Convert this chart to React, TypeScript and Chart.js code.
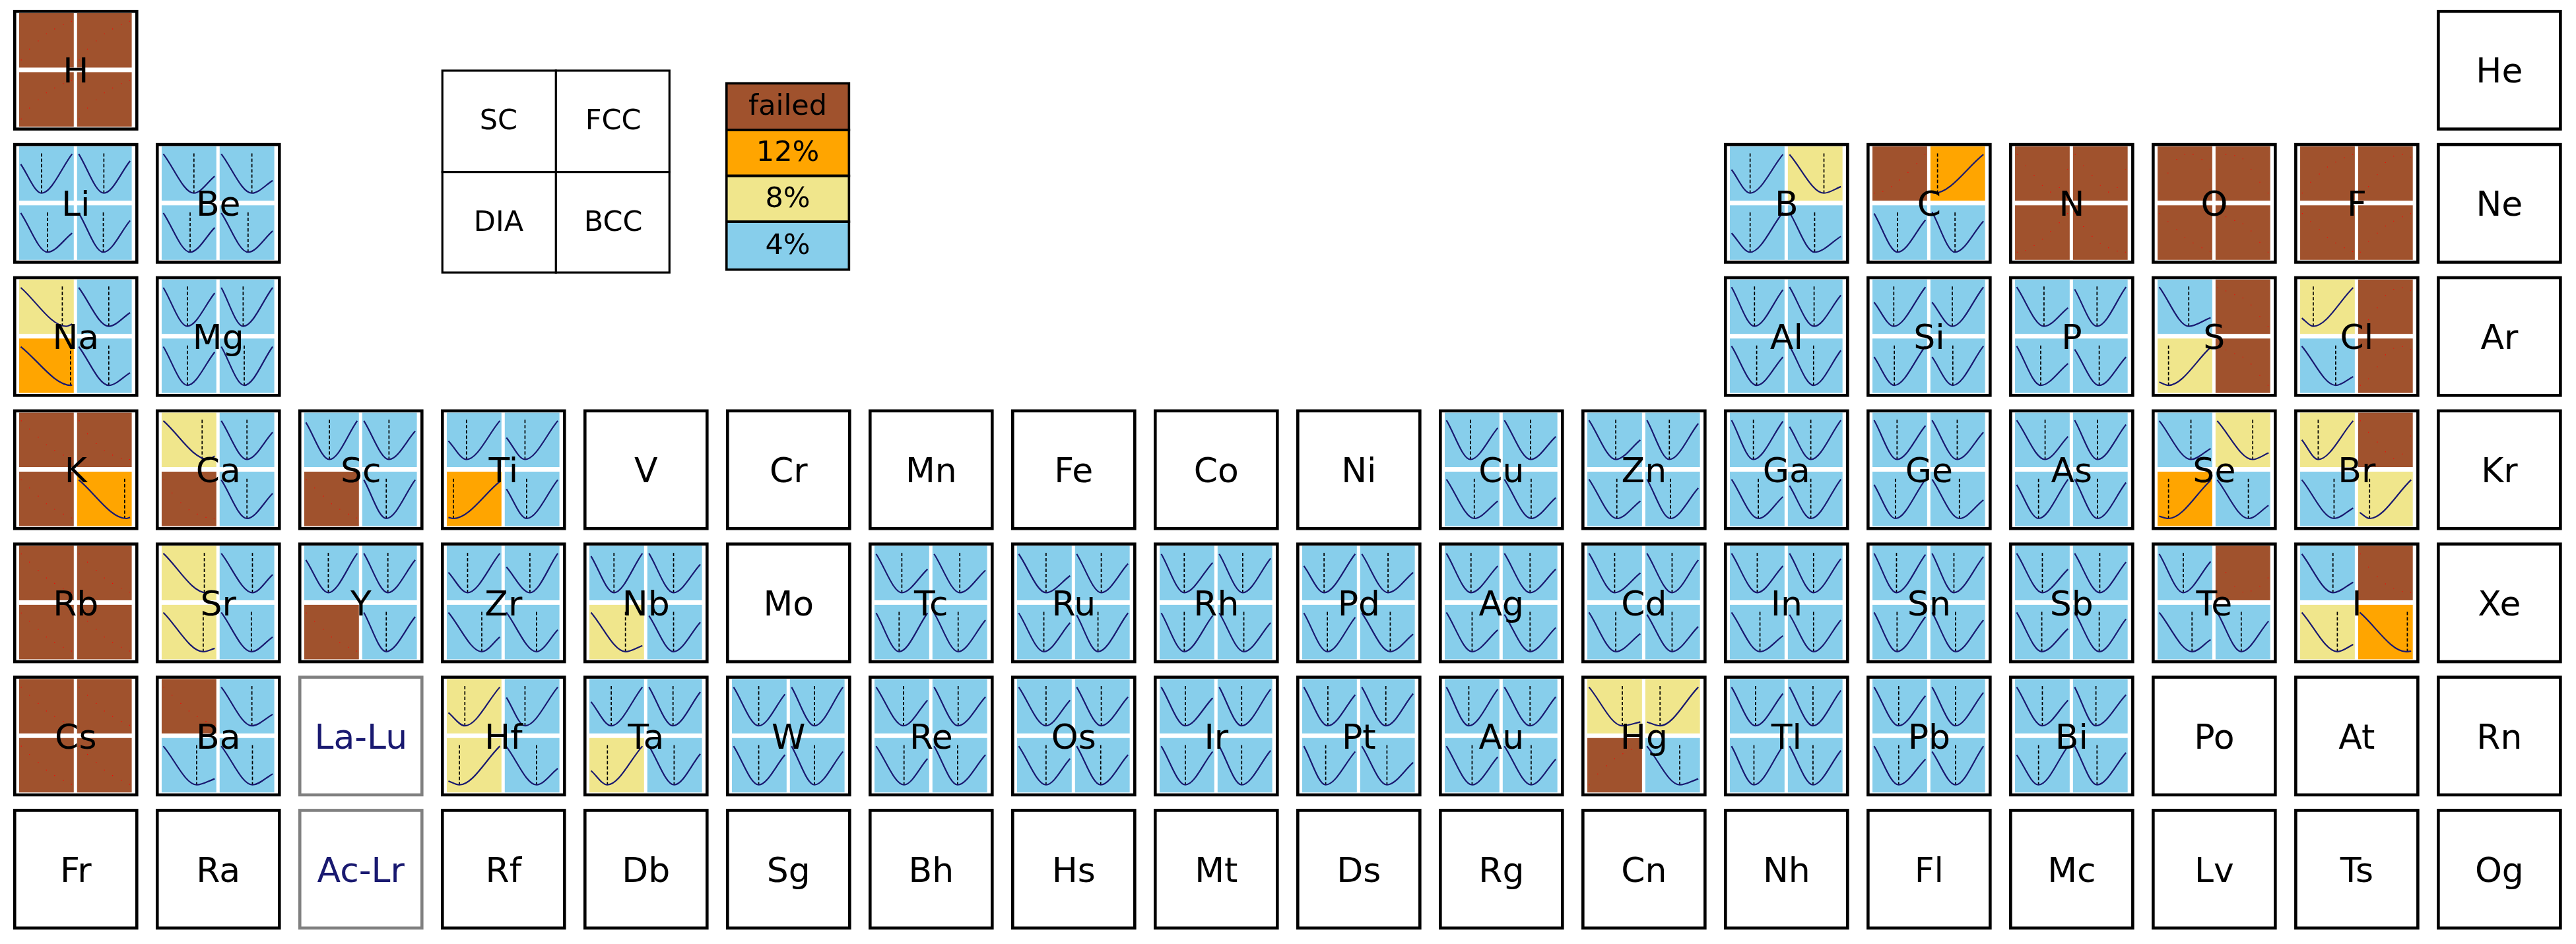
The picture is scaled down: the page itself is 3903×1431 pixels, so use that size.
import React, { useEffect, useRef } from 'react';
import { Chart, registerables } from 'chart.js';

Chart.register(...registerables);

// ---------- periodic table cells ----------
const CELL_SYMBOLS = [
  'H', 'He',
  'Li', 'Be', 'B', 'C', 'N', 'O', 'F', 'Ne',
  'Na', 'Mg', 'Al', 'Si', 'P', 'S', 'Cl', 'Ar',
  'K', 'Ca', 'Sc', 'Ti', 'V', 'Cr', 'Mn', 'Fe', 'Co', 'Ni', 'Cu', 'Zn', 'Ga', 'Ge', 'As', 'Se', 'Br', 'Kr',
  'Rb', 'Sr', 'Y', 'Zr', 'Nb', 'Mo', 'Tc', 'Ru', 'Rh', 'Pd', 'Ag', 'Cd', 'In', 'Sn', 'Sb', 'Te', 'I', 'Xe',
  'Cs', 'Ba', 'La-Lu', 'Hf', 'Ta', 'W', 'Re', 'Os', 'Ir', 'Pt', 'Au', 'Hg', 'Tl', 'Pb', 'Bi', 'Po', 'At', 'Rn',
  'Fr', 'Ra', 'Ac-Lr', 'Rf', 'Db', 'Sg', 'Bh', 'Hs', 'Mt', 'Ds', 'Rg', 'Cn', 'Nh', 'Fl', 'Mc', 'Lv', 'Ts', 'Og',
];
const CELL_ROW = [
  0, 0,
  1, 1, 1, 1, 1, 1, 1, 1,
  2, 2, 2, 2, 2, 2, 2, 2,
  3, 3, 3, 3, 3, 3, 3, 3, 3, 3, 3, 3, 3, 3, 3, 3, 3, 3,
  4, 4, 4, 4, 4, 4, 4, 4, 4, 4, 4, 4, 4, 4, 4, 4, 4, 4,
  5, 5, 5, 5, 5, 5, 5, 5, 5, 5, 5, 5, 5, 5, 5, 5, 5, 5,
  6, 6, 6, 6, 6, 6, 6, 6, 6, 6, 6, 6, 6, 6, 6, 6, 6, 6,
];
const CELL_COL = [
  0, 17,
  0, 1, 12, 13, 14, 15, 16, 17,
  0, 1, 12, 13, 14, 15, 16, 17,
  0, 1, 2, 3, 4, 5, 6, 7, 8, 9, 10, 11, 12, 13, 14, 15, 16, 17,
  0, 1, 2, 3, 4, 5, 6, 7, 8, 9, 10, 11, 12, 13, 14, 15, 16, 17,
  0, 1, 2, 3, 4, 5, 6, 7, 8, 9, 10, 11, 12, 13, 14, 15, 16, 17,
  0, 1, 2, 3, 4, 5, 6, 7, 8, 9, 10, 11, 12, 13, 14, 15, 16, 17,
];
const PLACEHOLDERS = ['La-Lu', 'Ac-Lr'];

// ---------- legends ----------
const STRUCTURES = ['SC', 'FCC', 'DIA', 'BCC'];
const LEVEL_LABELS = ['failed', '12%', '8%', '4%'];
const LEVEL_CODES = ['X', 'O', 'K', 'B'];
const LEVEL_COLORS = ['#a0522d', '#ffa500', '#f0e68c', '#87ceeb'];

// ---------- tested elements: quadrant order SC, FCC, DIA, BCC ----------
const TESTED = [
  'H', 'Li', 'Be', 'B', 'C', 'N', 'O', 'F',
  'Na', 'Mg', 'Al', 'Si', 'P', 'S', 'Cl',
  'K', 'Ca', 'Sc', 'Ti', 'Cu', 'Zn', 'Ga', 'Ge', 'As', 'Se', 'Br',
  'Rb', 'Sr', 'Y', 'Zr', 'Nb', 'Tc', 'Ru', 'Rh', 'Pd', 'Ag', 'Cd', 'In', 'Sn', 'Sb', 'Te', 'I',
  'Cs', 'Ba', 'Hf', 'Ta', 'W', 'Re', 'Os', 'Ir', 'Pt', 'Au', 'Hg', 'Tl', 'Pb', 'Bi',
];
const STATUS = [
  'XXXX', 'BBBB', 'BBBB', 'BKBB', 'XOBB', 'XXXX', 'XXXX', 'XXXX',
  'KBOB', 'BBBB', 'BBBB', 'BBBB', 'BBBB', 'BXKX', 'KXBX',
  'XXXO', 'KBXB', 'BBXB', 'BBOB', 'BBBB', 'BBBB', 'BBBB', 'BBBB', 'BBBB', 'BKOB', 'KXBK',
  'XXXX', 'KBKB', 'BBXB', 'BBBB', 'BBKB', 'BBBB', 'BBBB', 'BBBB', 'BBBB', 'BBBB', 'BBBB', 'BBBB', 'BBBB', 'BBBB', 'BXBB', 'BXKO',
  'XXXX', 'XBBB', 'KBKB', 'BBKB', 'BBBB', 'BBBB', 'BBBB', 'BBBB', 'BBBB', 'BBBB', 'KKXB', 'BBBB', 'BBBB', 'BBBB',
];
// each curve: [left-end height, x of minimum, right-end height, x of dashed reference]
// (fractions of the quadrant); failed quadrants name their scattered-point pattern
const CURVES: (number[] | string)[][] = [
  ['up', 'up', 'up', 'up'], // H
  [[0.67, 0.41, 0.86, 0.41], [0.86, 0.49, 0.73, 0.49], [0.86, 0.52, 0.49, 0.52], [0.86, 0.48, 0.72, 0.48]], // Li
  [[0.86, 0.59, 0.45, 0.59], [0.86, 0.59, 0.37, 0.59], [0.86, 0.52, 0.59, 0.52], [0.86, 0.52, 0.53, 0.52]], // Be
  [[0.57, 0.37, 0.85, 0.37], [0.85, 0.66, 0.26, 0.66], [0.49, 0.37, 0.87, 0.37], [0.87, 0.49, 0.43, 0.49]], // B
  ['climb', [0.15, 0.07, 0.85, 0.13], [0.85, 0.46, 0.73, 0.46], [0.88, 0.45, 0.71, 0.45]], // C
  ['vee', 'vee', 'climb', 'sag'], // N
  ['hump', 'fall', 'down', 'drop'], // O
  ['up', 'rise', 'down', 'up'], // F
  [[0.85, 0.86, 0.18, 0.79], [0.85, 0.58, 0.39, 0.58], [0.85, 0.95, 0.15, 0.94], [0.85, 0.58, 0.37, 0.58]], // Na
  [[0.85, 0.47, 0.75, 0.47], [0.85, 0.43, 0.85, 0.43], [0.85, 0.47, 0.75, 0.47], [0.85, 0.45, 0.85, 0.45]], // Mg
  [[0.86, 0.45, 0.81, 0.45], [0.86, 0.48, 0.71, 0.48], [0.86, 0.49, 0.66, 0.49], [0.86, 0.47, 0.78, 0.47]], // Al
  [[0.58, 0.39, 0.86, 0.39], [0.58, 0.40, 0.86, 0.40], [0.66, 0.40, 0.86, 0.40], [0.66, 0.41, 0.86, 0.41]], // Si
  [[0.86, 0.53, 0.48, 0.53], [0.82, 0.44, 0.86, 0.44], [0.86, 0.47, 0.54, 0.47], [0.80, 0.48, 0.66, 0.48]], // P
  [[0.86, 0.57, 0.30, 0.57], 'drop', [0.20, 0.20, 0.84, 0.20], 'drop'], // S
  [[0.29, 0.24, 0.85, 0.24], 'rise', [0.86, 0.65, 0.30, 0.65], 'rise'], // Cl
  ['down', 'sag', 'down', [0.85, 0.90, 0.16, 0.87]], // K
  [[0.85, 0.85, 0.20, 0.74], [0.85, 0.50, 0.64, 0.50], 'sag', [0.85, 0.50, 0.60, 0.50]], // Ca
  [[0.82, 0.46, 0.85, 0.46], [0.85, 0.49, 0.66, 0.49], 'down', [0.85, 0.44, 0.85, 0.44]], // Sc
  [[0.48, 0.36, 0.85, 0.36], [0.54, 0.37, 0.85, 0.37], [0.16, 0.12, 0.82, 0.12], [0.68, 0.40, 0.85, 0.40]], // Ti
  [[0.86, 0.47, 0.72, 0.47], [0.86, 0.51, 0.56, 0.51], [0.86, 0.54, 0.46, 0.54], [0.86, 0.52, 0.52, 0.52]], // Cu
  [[0.86, 0.52, 0.50, 0.52], [0.86, 0.44, 0.80, 0.44], [0.86, 0.54, 0.46, 0.54], [0.86, 0.46, 0.70, 0.46]], // Zn
  [[0.86, 0.43, 0.84, 0.43], [0.74, 0.42, 0.86, 0.42], [0.86, 0.52, 0.54, 0.52], [0.74, 0.42, 0.86, 0.42]], // Ga
  [[0.86, 0.45, 0.76, 0.45], [0.86, 0.49, 0.64, 0.49], [0.76, 0.42, 0.86, 0.42], [0.86, 0.53, 0.48, 0.53]], // Ge
  [[0.86, 0.55, 0.56, 0.55], [0.86, 0.45, 0.78, 0.45], [0.76, 0.43, 0.86, 0.43], [0.86, 0.45, 0.80, 0.45]], // As
  [[0.85, 0.61, 0.34, 0.61], [0.85, 0.68, 0.26, 0.68], [0.18, 0.20, 0.84, 0.20], [0.85, 0.60, 0.38, 0.60]], // Se
  [[0.50, 0.33, 0.85, 0.33], 'vee', [0.85, 0.62, 0.33, 0.62], [0.25, 0.21, 0.85, 0.21]], // Br
  ['down', 'down', 'down', 'down'], // Rb
  [[0.86, 0.81, 0.17, 0.78], [0.86, 0.60, 0.47, 0.60], [0.86, 0.76, 0.20, 0.76], [0.86, 0.58, 0.41, 0.58]], // Sr
  [[0.74, 0.44, 0.86, 0.44], [0.86, 0.47, 0.74, 0.47], 'down', [0.86, 0.44, 0.78, 0.44]], // Y
  [[0.51, 0.38, 0.86, 0.38], [0.61, 0.46, 0.86, 0.46], [0.86, 0.64, 0.41, 0.64], [0.86, 0.58, 0.54, 0.58]], // Zr
  [[0.81, 0.45, 0.86, 0.45], [0.86, 0.48, 0.66, 0.48], [0.86, 0.66, 0.25, 0.66], [0.80, 0.48, 0.68, 0.48]], // Nb
  [[0.85, 0.50, 0.57, 0.50], [0.85, 0.50, 0.55, 0.50], [0.85, 0.45, 0.85, 0.45], [0.85, 0.47, 0.72, 0.47]], // Tc
  [[0.85, 0.53, 0.45, 0.53], [0.85, 0.48, 0.67, 0.48], [0.85, 0.49, 0.67, 0.49], [0.81, 0.42, 0.85, 0.42]], // Ru
  [[0.85, 0.45, 0.69, 0.45], [0.85, 0.46, 0.77, 0.46], [0.85, 0.45, 0.80, 0.45], [0.85, 0.48, 0.67, 0.48]], // Rh
  [[0.63, 0.40, 0.85, 0.40], [0.85, 0.51, 0.51, 0.51], [0.85, 0.46, 0.77, 0.46], [0.85, 0.55, 0.46, 0.55]], // Pd
  [[0.86, 0.48, 0.63, 0.48], [0.86, 0.50, 0.57, 0.50], [0.86, 0.50, 0.54, 0.50], [0.82, 0.50, 0.58, 0.50]], // Ag
  [[0.86, 0.50, 0.50, 0.50], [0.86, 0.49, 0.74, 0.49], [0.86, 0.52, 0.47, 0.52], [0.82, 0.49, 0.60, 0.49]], // Cd
  [[0.86, 0.50, 0.63, 0.50], [0.86, 0.47, 0.76, 0.47], [0.86, 0.55, 0.43, 0.55], [0.82, 0.47, 0.72, 0.47]], // In
  [[0.86, 0.44, 0.84, 0.44], [0.86, 0.43, 0.80, 0.43], [0.86, 0.45, 0.78, 0.45], [0.86, 0.46, 0.72, 0.46]], // Sn
  [[0.86, 0.50, 0.57, 0.50], [0.86, 0.49, 0.70, 0.49], [0.86, 0.49, 0.56, 0.49], [0.86, 0.48, 0.74, 0.48]], // Sb
  [[0.85, 0.47, 0.71, 0.47], 'dip', [0.86, 0.63, 0.36, 0.63], [0.86, 0.47, 0.70, 0.47]], // Te
  [[0.85, 0.60, 0.33, 0.60], 'sag', [0.86, 0.68, 0.27, 0.68], [0.86, 0.88, 0.15, 0.90]], // I
  ['down', 'down', 'down', 'down'], // Cs
  ['down', [0.85, 0.59, 0.35, 0.59], [0.85, 0.64, 0.25, 0.64], [0.85, 0.60, 0.34, 0.60]], // Ba
  [[0.38, 0.33, 0.85, 0.33], [0.66, 0.37, 0.85, 0.37], [0.21, 0.23, 0.85, 0.23], [0.84, 0.58, 0.44, 0.58]], // Hf
  [[0.58, 0.40, 0.85, 0.40], [0.85, 0.47, 0.76, 0.47], [0.40, 0.33, 0.85, 0.33], [0.85, 0.49, 0.71, 0.49]], // Ta
  [[0.85, 0.49, 0.72, 0.49], [0.85, 0.45, 0.85, 0.45], [0.85, 0.49, 0.69, 0.49], [0.85, 0.45, 0.75, 0.45]], // W
  [[0.85, 0.53, 0.61, 0.53], [0.85, 0.47, 0.67, 0.47], [0.85, 0.54, 0.62, 0.54], [0.85, 0.46, 0.69, 0.46]], // Re
  [[0.85, 0.53, 0.61, 0.53], [0.85, 0.48, 0.67, 0.48], [0.85, 0.53, 0.62, 0.53], [0.85, 0.47, 0.69, 0.47]], // Os
  [[0.85, 0.47, 0.65, 0.47], [0.85, 0.44, 0.81, 0.44], [0.85, 0.47, 0.75, 0.47], [0.85, 0.44, 0.77, 0.44]], // Ir
  [[0.85, 0.47, 0.71, 0.47], [0.85, 0.47, 0.73, 0.47], [0.85, 0.43, 0.75, 0.43], [0.85, 0.49, 0.55, 0.49]], // Pt
  [[0.85, 0.44, 0.81, 0.44], [0.85, 0.50, 0.67, 0.50], [0.85, 0.50, 0.65, 0.50], [0.85, 0.52, 0.61, 0.52]], // Au
  [[0.85, 0.64, 0.21, 0.64], [0.21, 0.27, 0.85, 0.27], 'up', [0.85, 0.63, 0.25, 0.63]], // Hg
  [[0.85, 0.47, 0.73, 0.47], [0.85, 0.46, 0.79, 0.46], [0.85, 0.44, 0.85, 0.44], [0.85, 0.46, 0.77, 0.46]], // Tl
  [[0.85, 0.48, 0.69, 0.48], [0.85, 0.46, 0.75, 0.46], [0.85, 0.48, 0.61, 0.48], [0.75, 0.46, 0.85, 0.46]], // Pb
  [[0.85, 0.50, 0.61, 0.50], [0.85, 0.42, 0.71, 0.42], [0.69, 0.43, 0.85, 0.43], [0.85, 0.44, 0.73, 0.44]], // Bi
];

// scattered points of failed fits (heights, at DOT_X positions)
const DOT_X = [0.04, 0.19, 0.35, 0.5, 0.65, 0.81, 0.96];
const DOT_UP = [0.14, 0.34, 0.49, 0.62, 0.71, 0.79, 0.85];
const DOT_DOWN = [0.85, 0.7, 0.55, 0.41, 0.31, 0.22, 0.15];
const DOT_SAG = [0.85, 0.61, 0.43, 0.3, 0.22, 0.16, 0.14];
const DOT_DROP = [0.85, 0.79, 0.72, 0.66, 0.53, 0.32, 0.14];
const DOT_RISE = [0.14, 0.26, 0.48, 0.7, 0.82, 0.85, 0.8];
const DOT_DIP = [0.85, 0.51, 0.26, 0.15, 0.17, 0.26, 0.41];
const DOT_VEE = [0.85, 0.64, 0.46, 0.28, 0.16, 0.24, 0.57];
const DOT_HUMP = [0.14, 0.51, 0.76, 0.85, 0.85, 0.76, 0.58];
const DOT_FALL = [0.14, 0.85, 0.83, 0.77, 0.58, 0.34, 0.14];
const DOT_CLIMB = [0.14, 0.17, 0.26, 0.38, 0.52, 0.68, 0.85];
const DOT_PATTERNS: Record<string, number[]> = {
  up: DOT_UP, down: DOT_DOWN, sag: DOT_SAG, drop: DOT_DROP, rise: DOT_RISE,
  dip: DOT_DIP, vee: DOT_VEE, hump: DOT_HUMP, fall: DOT_FALL, climb: DOT_CLIMB,
};

// curve extent inside a quadrant
const CURVE_LEFT = 0.03;
const CURVE_RIGHT = 0.97;
const CURVE_MIN = 0.14;
const DASH_TOP = 0.87;

// ---------- geometry (axis units: 1 = one column / one row) ----------
const COL_PX = 216.45;
const ROW_PX = 203;
const X_MIN = -16 / COL_PX;
const X_MAX = (3903 - 16) / COL_PX;
const Y_MIN = -11 / ROW_PX;
const Y_MAX = (1431 - 11) / ROW_PX;
const CELL_W = 190 / COL_PX;
const CELL_H = 184 / ROW_PX;
const QX = [9 / COL_PX, 92 / COL_PX, 97 / COL_PX, 180 / COL_PX];
const QY = [5 / ROW_PX, 88 / ROW_PX, 95 / ROW_PX, 178 / ROW_PX];
const GRID_X = [650 / COL_PX, 824 / COL_PX, 998 / COL_PX];
const GRID_Y = [91 / ROW_PX, 247 / ROW_PX, 402 / ROW_PX];
const KEY_X = [1083 / COL_PX, 1269 / COL_PX];
const KEY_Y = [112 / ROW_PX, 183 / ROW_PX, 253 / ROW_PX, 323 / ROW_PX, 396 / ROW_PX];

function quadBox(col: number, row: number, q: number) {
  const qc = q % 2;
  const qr = Math.floor(q / 2);
  return {
    x0: col + QX[qc * 2], x1: col + QX[qc * 2 + 1],
    y0: row + QY[qr * 2], y1: row + QY[qr * 2 + 1],
  };
}
function local(b: { x0: number; x1: number; y0: number; y1: number }, u: number, v: number) {
  return { x: b.x0 + u * (b.x1 - b.x0), y: b.y1 - v * (b.y1 - b.y0) };
}
function cellOf(sym: string) {
  const j = CELL_SYMBOLS.indexOf(sym);
  return { col: CELL_COL[j], row: CELL_ROW[j] };
}

function buildData() {
  const curve: any[] = [];
  const dash: any[] = [];
  const dots: any[] = [];
  TESTED.forEach((sym, i) => {
    const { col, row } = cellOf(sym);
    CURVES[i].forEach((entry, q) => {
      const b = quadBox(col, row, q);
      if (typeof entry === 'string') {
        const ys = DOT_PATTERNS[entry];
        DOT_X.forEach((u, k) => dots.push(local(b, u, ys[k])));
        return;
      }
      const [yl, xm, yr, xd] = entry;
      const p1 = local(b, CURVE_LEFT, yl);
      const p2 = local(b, xm, CURVE_MIN);
      const p3 = local(b, CURVE_RIGHT, yr);
      curve.push(p1, p2, p3, { x: p3.x, y: null });
      const d1 = local(b, xd, DASH_TOP);
      const d2 = local(b, xd, CURVE_MIN);
      dash.push(d1, d2, { x: d2.x, y: null });
    });
  });
  return { curve, dash, dots };
}

const FONT = '"DejaVu Sans", "Liberation Sans", sans-serif';
const CAP = 0.729;

const tablePlugin = {
  id: 'periodicTable',
  beforeDatasetsDraw(chart: any) {
    const { ctx } = chart;
    const xs = chart.scales.x;
    const ys = chart.scales.y;
    const px = (v: number) => xs.getPixelForValue(v);
    const py = (v: number) => ys.getPixelForValue(v);
    ctx.save();
    // quadrant fills
    TESTED.forEach((sym, i) => {
      const { col, row } = cellOf(sym);
      for (let q = 0; q < 4; q++) {
        const b = quadBox(col, row, q);
        const code = STATUS[i][q];
        ctx.fillStyle = LEVEL_COLORS[LEVEL_CODES.indexOf(code)];
        ctx.fillRect(px(b.x0), py(b.y0), px(b.x1) - px(b.x0), py(b.y1) - py(b.y0));
      }
    });
    // frames
    CELL_SYMBOLS.forEach((sym, j) => {
      const col = CELL_COL[j];
      const row = CELL_ROW[j];
      const lw = 4.6;
      ctx.lineWidth = lw;
      ctx.strokeStyle = PLACEHOLDERS.includes(sym) ? '#808080' : '#000000';
      const x0 = px(col), x1 = px(col + CELL_W);
      const y0 = py(row), y1 = py(row + CELL_H);
      ctx.strokeRect(x0 + lw / 2, y0 + lw / 2, x1 - x0 - lw, y1 - y0 - lw);
    });
    // structure legend grid
    ctx.lineWidth = 3.2;
    ctx.strokeStyle = '#000';
    const gx = GRID_X.map(px), gy = GRID_Y.map(py);
    ctx.strokeRect(gx[0] + 1.6, gy[0] + 1.6, gx[2] - gx[0] - 3.2, gy[2] - gy[0] - 3.2);
    ctx.beginPath();
    ctx.moveTo(gx[1], gy[0]); ctx.lineTo(gx[1], gy[2]);
    ctx.moveTo(gx[0], gy[1]); ctx.lineTo(gx[2], gy[1]);
    ctx.stroke();
    // colour key
    const kx = KEY_X.map(px), ky = KEY_Y.map(py);
    for (let k = 0; k < 4; k++) {
      ctx.fillStyle = LEVEL_COLORS[k];
      ctx.fillRect(kx[0], ky[k], kx[1] - kx[0], ky[k + 1] - ky[k]);
    }
    ctx.lineWidth = 3.6;
    for (let k = 0; k < 4; k++) {
      ctx.strokeRect(kx[0], ky[k], kx[1] - kx[0], ky[k + 1] - ky[k]);
    }
    ctx.restore();
  },
  afterDatasetsDraw(chart: any) {
    const { ctx } = chart;
    const xs = chart.scales.x;
    const ys = chart.scales.y;
    const px = (v: number) => xs.getPixelForValue(v);
    const py = (v: number) => ys.getPixelForValue(v);
    ctx.save();
    ctx.textAlign = 'center';
    ctx.textBaseline = 'alphabetic';
    const big = 52;
    ctx.font = `${big}px ${FONT}`;
    CELL_SYMBOLS.forEach((sym, j) => {
      const col = CELL_COL[j];
      const row = CELL_ROW[j];
      ctx.fillStyle = PLACEHOLDERS.includes(sym) ? '#191970' : '#000000';
      const cx = px(col + CELL_W / 2);
      const cy = py(row + CELL_H / 2);
      ctx.fillText(sym, cx, cy + (big * CAP) / 2);
    });
    const small = 43;
    ctx.font = `${small}px ${FONT}`;
    ctx.fillStyle = '#000';
    const gx = GRID_X.map(px), gy = GRID_Y.map(py);
    STRUCTURES.forEach((s, q) => {
      const qc = q % 2, qr = Math.floor(q / 2);
      const cx = (gx[qc] + gx[qc + 1]) / 2;
      const cy = (gy[qr] + gy[qr + 1]) / 2;
      ctx.fillText(s, cx, cy + (small * CAP) / 2 - 3);
    });
    const kx = KEY_X.map(px), ky = KEY_Y.map(py);
    LEVEL_LABELS.forEach((s, k) => {
      const cx = (kx[0] + kx[1]) / 2;
      const cy = (ky[k] + ky[k + 1]) / 2;
      ctx.fillText(s, cx, cy + (small * CAP) / 2 - 3);
    });
    ctx.restore();
  },
};

export default function App() {
  const ref = useRef<HTMLCanvasElement>(null);
  useEffect(() => {
    document.body.style.margin = '0';
    const canvas = ref.current;
    if (!canvas) return;
    const { curve, dash, dots } = buildData();
    const chart = new Chart(canvas, {
      type: 'line',
      data: {
        datasets: [
          {
            label: 'fit',
            data: curve,
            borderColor: '#191970',
            borderWidth: 2.2,
            pointRadius: 0,
            cubicInterpolationMode: 'monotone',
            spanGaps: false,
            fill: false,
          },
          {
            label: 'reference',
            data: dash,
            borderColor: '#000000',
            borderWidth: 1.7,
            borderDash: [5, 3],
            pointRadius: 0,
            tension: 0,
            spanGaps: false,
            fill: false,
          },
          {
            label: 'failed points',
            data: dots,
            showLine: false,
            pointRadius: 0.8,
            pointStyle: 'rect',
            pointBackgroundColor: '#ff0000',
            pointBorderWidth: 0,
            borderWidth: 0,
          },
        ],
      } as any,
      options: {
        responsive: false,
        maintainAspectRatio: false,
        devicePixelRatio: 1,
        animation: false,
        events: [],
        layout: { padding: 0 },
        scales: {
          x: { type: 'linear', min: X_MIN, max: X_MAX, display: false },
          y: { type: 'linear', min: Y_MIN, max: Y_MAX, reverse: true, display: false },
        },
        plugins: { legend: { display: false }, tooltip: { enabled: false } },
      } as any,
      plugins: [tablePlugin],
    });
    return () => chart.destroy();
  }, []);
  return (
    <canvas
      ref={ref}
      width={3903}
      height={1431}
      style={{ display: 'block', width: '3903px', height: '1431px' }}
    />
  );
}
